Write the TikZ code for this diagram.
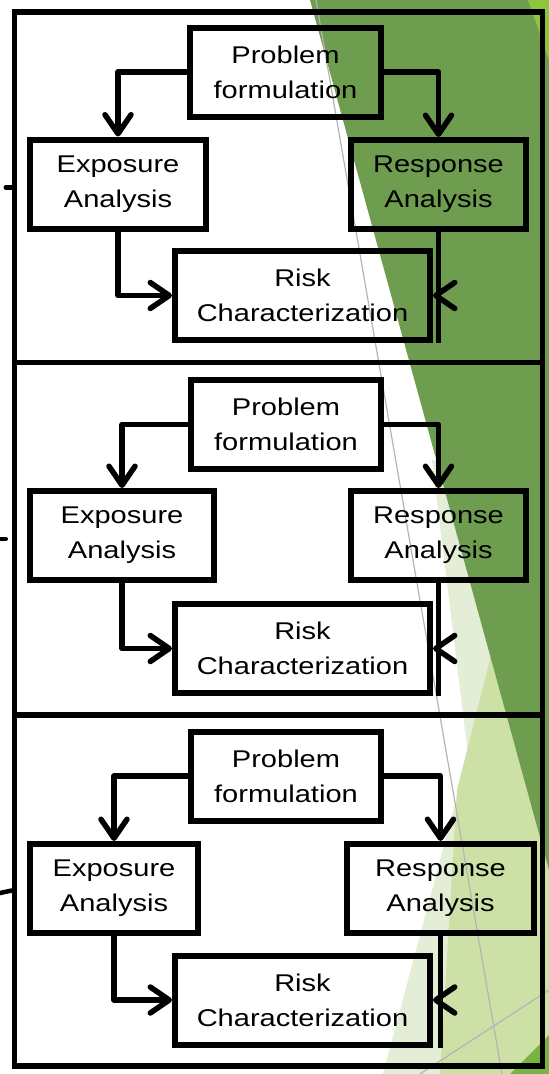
\documentclass[tikz,border=0pt]{standalone}
\usepackage{fontspec}
\setmainfont{Liberation Sans}[FakeStretch=1.2]
\usetikzlibrary{arrows.meta,calc,positioning}
\definecolor{Leaf}{HTML}{6E9D4F}
\definecolor{Sprout}{HTML}{CDE1A7}
\definecolor{Mist}{HTML}{E4EED7}
\definecolor{Lime}{HTML}{8DC53E}
\definecolor{Moss}{HTML}{79B443}
\definecolor{Rule}{HTML}{B4B4B4}

\begin{document}
\begin{tikzpicture}[x=1pt,y=-1pt,
    stage/.style={draw,line width=6pt,minimum height=89pt,inner sep=0pt,align=center,
      font=\fontsize{24.2}{35}\selectfont},
    panel/.style={draw,line width=5.5pt,minimum width=528pt},
    flow/.style={line width=5.5pt,line join=round,-{Straight Barb[round,length=19pt,width=26pt]}},
    link/.style={line width=5.5pt},
    stub/.style={line width=4.5pt,line cap=round}]
  \useasboundingbox (0,0) rectangle (549,1074);
  \fill[Mist] (432,460) -- (468,755) -- (383,1074) -- (549,1074) -- (549,460) -- cycle;
  \fill[Sprout] (505,600) -- (457,790) -- (440,1074) -- (549,1074) -- (549,600) -- cycle;
  \fill[Leaf] (310,0) -- (549,0) -- (549,870) -- cycle;
  \fill[Lime] (528,0) -- (549,0) -- (549,60) -- cycle;
  \fill[Moss] (549,1035) -- (549,1074) -- (510,1074) -- cycle;
  \draw[Rule,line width=1.2pt] (316,0) -- (502,1074);
  \draw[Rule,line width=1.2pt] (420,1074) -- (549,990);

  \node[panel,minimum height=350.5pt] (pan1) at (278.5,187.25) {};
  \node[panel,minimum height=352.5pt] (pan2) at (278.5,538.75) {};
  \node[panel,minimum height=351pt] (pan3) at (278.5,890.5) {};
  \draw[stub] (pan1.west) -- ++(-6,0);
  \draw[stub] ([xshift=-6pt]pan2.west) -- ++(-6,0);
  \draw[stub] (pan3.west) -- ++(-14,3);

  \node[stage,minimum width=191pt] (prob1) at (285.5,72) {Problem\\formulation};
  \node[stage,minimum width=176pt] (expo1) at (118,184) {Exposure\\Analysis};
  \node[stage,minimum width=175pt] (resp1) at (438.5,184.5) {Response\\Analysis};
  \node[stage,minimum width=255pt] (risk1) at (302.5,295.5) {Risk\\Characterization};
  \draw[flow] (prob1.west) -| (expo1.north);
  \draw[flow] (prob1.east) -| (resp1.north);
  \draw[flow] (expo1.south) |- (risk1.west);
  \draw[link] (resp1.south) -- (resp1.south |- risk1.south);
  \draw[flow] (resp1.south |- risk1.east) -- (risk1.east);

  \node[stage,minimum width=190pt] (prob2) at (286,424.5) {Problem\\formulation};
  \node[stage,minimum width=184pt] (expo2) at (122,535.5) {Exposure\\Analysis};
  \node[stage,minimum width=175pt] (resp2) at (438.5,535.5) {Response\\Analysis};
  \node[stage,minimum width=255pt] (risk2) at (302.5,648.5) {Risk\\Characterization};
  \draw[flow] (prob2.west) -| (expo2.north);
  \draw[flow] (prob2.east) -| (resp2.north);
  \draw[flow] (expo2.south) |- (risk2.west);
  \draw[link] (resp2.south) -- (resp2.south |- risk2.south);
  \draw[flow] (resp2.south |- risk2.east) -- (risk2.east);

  \node[stage,minimum width=190pt] (prob3) at (286,776) {Problem\\formulation};
  \node[stage,minimum width=168pt] (expo3) at (114,888.5) {Exposure\\Analysis};
  \node[stage,minimum width=187pt] (resp3) at (440.5,888.5) {Response\\Analysis};
  \node[stage,minimum width=255pt] (risk3) at (302.5,1000) {Risk\\Characterization};
  \draw[flow] (prob3.west) -| (expo3.north);
  \draw[flow] (prob3.east) -| (resp3.north);
  \draw[flow] (expo3.south) |- (risk3.west);
  \draw[link] (resp3.south) -- (resp3.south |- risk3.south);
  \draw[flow] (resp3.south |- risk3.east) -- (risk3.east);
\end{tikzpicture}
\end{document}
